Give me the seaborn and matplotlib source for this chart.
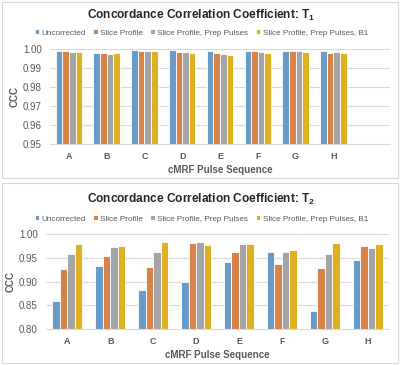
import numpy as np
import pandas as pd
import matplotlib
matplotlib.use('Agg')
import matplotlib.pyplot as plt
import seaborn as sns
from matplotlib.patches import Rectangle

# =========================
# Data
# =========================
sequences = ['A', 'B', 'C', 'D', 'E', 'F', 'G', 'H']
methods = ['Uncorrected', 'Slice Profile', 'Slice Profile, Prep Pulses',
           'Slice Profile, Prep Pulses, B1']
colors = ['#5B9BD5', '#ED7D31', '#A5A5A5', '#FFC000']

t1_uncorrected = [0.9990, 0.9981, 0.9993, 0.9993, 0.9989, 0.9990, 0.9992, 0.9987]
t1_slice = [0.9990, 0.9981, 0.9990, 0.9986, 0.9981, 0.9988, 0.9988, 0.9981]
t1_prep = [0.9985, 0.9975, 0.9990, 0.9986, 0.9976, 0.9982, 0.9988, 0.9986]
t1_b1 = [0.9986, 0.9978, 0.9987, 0.9981, 0.9970, 0.9979, 0.9986, 0.9981]

t2_uncorrected = [0.859, 0.934, 0.882, 0.899, 0.942, 0.962, 0.839, 0.945]
t2_slice = [0.927, 0.955, 0.931, 0.982, 0.963, 0.937, 0.928, 0.976]
t2_prep = [0.958, 0.973, 0.963, 0.984, 0.979, 0.962, 0.958, 0.971]
t2_b1 = [0.979, 0.976, 0.983, 0.978, 0.980, 0.966, 0.982, 0.980]


def to_long(series_list):
    rows = []
    for method, vals in zip(methods, series_list):
        for seq, v in zip(sequences, vals):
            rows.append({'seq': seq, 'method': method, 'ccc': v})
    return pd.DataFrame(rows)


df_t1 = to_long([t1_uncorrected, t1_slice, t1_prep, t1_b1])
df_t2 = to_long([t2_uncorrected, t2_slice, t2_prep, t2_b1])

# =========================
# Style
# =========================
sns.set_style('white')
plt.rcParams['font.family'] = ['Liberation Sans', 'DejaVu Sans']
plt.rcParams['mathtext.fontset'] = 'custom'
plt.rcParams['mathtext.rm'] = 'Liberation Sans'
plt.rcParams['mathtext.bf'] = 'Liberation Sans:bold'

txt_color = '#595959'
grid_color = '#D9D9D9'

fig = plt.figure(figsize=(4.0, 3.65), dpi=100)

# panel borders
for (y0, h) in [(1 - 178 / 365, 176 / 365), (1 - 363 / 365, 180 / 365)]:
    fig.patches.append(Rectangle((0.004, y0), 0.992, h, transform=fig.transFigure,
                                 fill=False, edgecolor='#D9D9D9', linewidth=0.8))

ax1 = fig.add_axes([0.125, 1 - 144 / 365, 0.85, 95 / 365])
ax2 = fig.add_axes([0.115, 1 - 329 / 365, 0.8575, 94.7 / 365])


def draw(ax, df, ylim, yticks, title, title_y, legend_y, nslots):
    sns.barplot(data=df, x='seq', y='ccc', hue='method', palette=colors,
                width=0.7, edgecolor='white', linewidth=0.6, ax=ax)
    ax.set_ylim(*ylim)
    ax.set_xlim(-0.5, nslots - 0.5)
    ax.set_yticks(yticks)
    ax.set_yticklabels([f'{t:.2f}' for t in yticks], fontsize=7, color=txt_color)
    ax.set_xticks(range(len(sequences)))
    ax.set_xticklabels(sequences, fontsize=6.5, fontweight='bold', color=txt_color)
    ax.tick_params(length=0, pad=6)
    ax.grid(axis='y', color=grid_color, linewidth=0.8)
    ax.set_axisbelow(True)
    for s in ['top', 'right', 'left']:
        ax.spines[s].set_visible(False)
    ax.spines['bottom'].set_color(grid_color)
    ax.set_xlabel('cMRF Pulse Sequence', fontsize=7, fontweight='bold',
                  color=txt_color, labelpad=3)
    ax.set_ylabel('CCC', fontsize=7, fontweight='bold', color=txt_color, labelpad=2)

    handles, labels = ax.get_legend_handles_labels()
    ax.get_legend().remove()
    fig.legend(handles, labels, loc='center', bbox_to_anchor=(0.503, legend_y),
               ncol=4, frameon=False, fontsize=5.9, labelcolor=txt_color,
               handlelength=0.55, handleheight=0.55, handletextpad=0.3,
               columnspacing=0.9, borderaxespad=0)
    fig.text(0.503, title_y, title, ha='center', va='center', fontsize=8.6,
             fontweight='bold', color='#262626')


draw(ax1, df_t1, (0.95, 1.00), [0.95, 0.96, 0.97, 0.98, 0.99, 1.00],
     r'Concordance Correlation Coefficient: $\mathbf{T}_\mathbf{1}$',
     1 - 15 / 365, 1 - 33 / 365, 9)
draw(ax2, df_t2, (0.80, 1.00), [0.80, 0.85, 0.90, 0.95, 1.00],
     r'Concordance Correlation Coefficient: $\mathbf{T}_\mathbf{2}$',
     1 - 199 / 365, 1 - 219 / 365, 8)

fig.savefig('out.png', dpi=100)
